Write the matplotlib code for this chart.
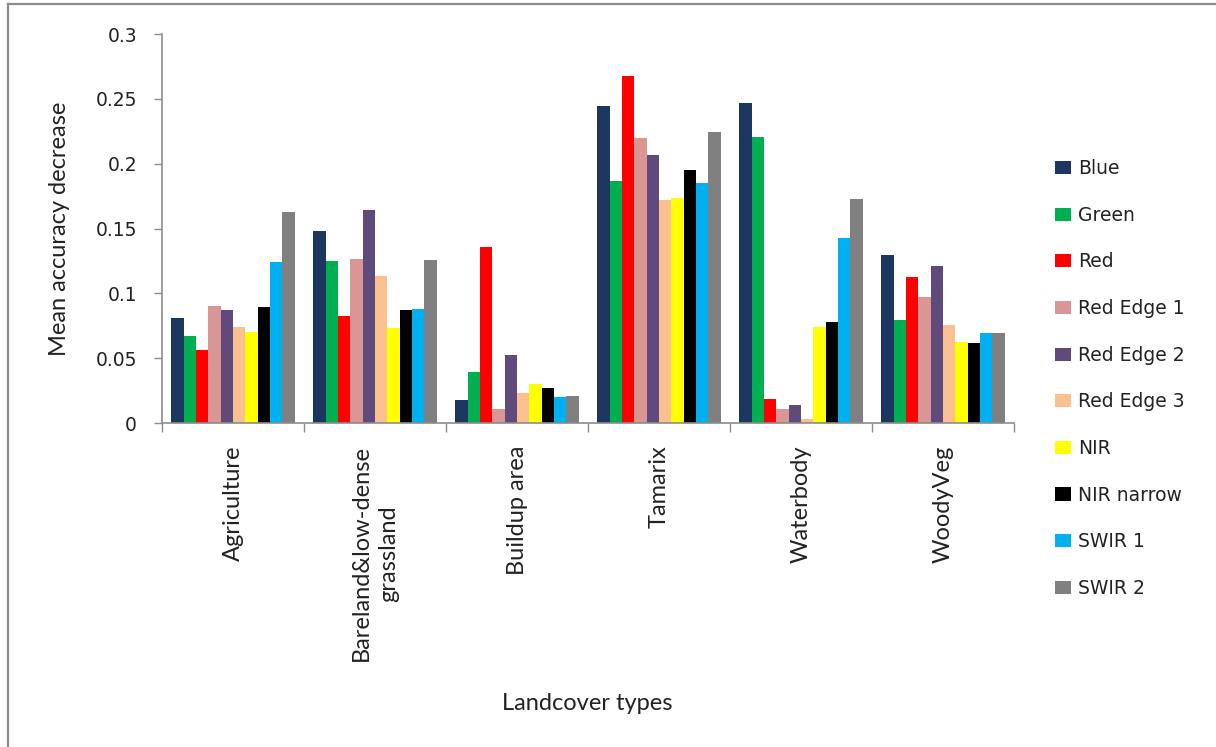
import numpy as np
import matplotlib
matplotlib.use("Agg")
import matplotlib.pyplot as plt
from matplotlib.lines import Line2D
from matplotlib.patches import Patch

# Land-cover classes (x categories)
categories = ["Agriculture", "Bareland&low-dense\ngrassland", "Buildup area",
              "Tamarix", "Waterbody", "WoodyVeg"]

# Spectral bands (series)
bands = ["Blue", "Green", "Red", "Red Edge 1", "Red Edge 2", "Red Edge 3",
         "NIR", "NIR narrow", "SWIR 1", "SWIR 2"]

band_colors = ["#1B365F", "#00B050", "#FF0000", "#D99694", "#604A7B",
               "#FAC090", "#FFFF00", "#000000", "#00B0F0", "#808080"]

# Mean accuracy decrease per band, one list per land-cover class
agriculture = [0.081, 0.067, 0.056, 0.0905, 0.0875, 0.0743, 0.0704, 0.0897, 0.124, 0.1625]
bareland = [0.1477, 0.1248, 0.0829, 0.1266, 0.1639, 0.1132, 0.0729, 0.0872, 0.0883, 0.1258]
buildup = [0.0175, 0.0396, 0.1361, 0.0108, 0.0527, 0.0232, 0.0299, 0.027, 0.0203, 0.0211]
tamarix = [0.2447, 0.187, 0.2676, 0.2197, 0.2063, 0.1719, 0.1737, 0.1955, 0.1852, 0.2243]
waterbody = [0.2465, 0.2207, 0.0185, 0.011, 0.0136, 0.0033, 0.0741, 0.078, 0.143, 0.1726]
woodyveg = [0.1297, 0.0797, 0.1124, 0.097, 0.1209, 0.0759, 0.0625, 0.0615, 0.0692, 0.0692]

y_ticks = [0, 0.05, 0.1, 0.15, 0.2, 0.25, 0.3]
y_tick_labels = ["0", "0.05", "0.1", "0.15", "0.2", "0.25", "0.3"]

values = np.array([agriculture, bareland, buildup, tamarix, waterbody, woodyveg])

W, H = 1216, 747
fig = plt.figure(figsize=(W / 100, H / 100), dpi=100)
ax = fig.add_axes([162 / W, 1 - 423 / H, (1014 - 162) / W, (423 - 34) / H])

tick_font = "DejaVu Sans"
title_font = "Lato"
axis_gray = "#8C8C8C"

n_cat, n_band = values.shape
bar_w = 1 / 11.5
centers = np.arange(n_cat) + 0.5
for j in range(n_band):
    x = centers + (j - (n_band - 1) / 2) * bar_w
    ax.bar(x, values[:, j], width=bar_w, color=band_colors[j],
           edgecolor="none", linewidth=0, zorder=2)

ax.set_xlim(0, n_cat)
ax.set_ylim(0, 0.3)

# y axis
ax.set_yticks(y_ticks)
ax.set_yticklabels(y_tick_labels, fontfamily=tick_font, fontsize=13.5)
ax.tick_params(axis="y", direction="out", length=6, width=1, color=axis_gray,
               pad=12, labelcolor="#222222")

# x axis: boundary tick marks, labels at category centres
ax.set_xticks(np.arange(n_cat + 1), minor=True)
ax.set_xticks(centers)
ax.set_xticklabels(categories, rotation=90, fontfamily=title_font,
                   fontsize=17, color="#222222", linespacing=1.35)
ax.tick_params(axis="x", which="major", length=0, pad=16)
ax.tick_params(axis="x", which="minor", direction="out", length=6.5,
               width=1, color=axis_gray)

for side in ("top", "right"):
    ax.spines[side].set_visible(False)
for side in ("left", "bottom"):
    ax.spines[side].set_color(axis_gray)
    ax.spines[side].set_linewidth(1.2)

# axis titles
fig.text(60 / W, 1 - 229 / H, "Mean accuracy decrease", rotation=90,
         ha="center", va="center", fontfamily=title_font, fontsize=17,
         color="#222222")
fig.text(587 / W, 1 - 703 / H, "Landcover types", ha="center", va="center",
         fontfamily=title_font, fontsize=17, color="#222222")

# legend
handles = [Patch(facecolor=c, edgecolor="none") for c in band_colors]
fig.legend(handles, bands, loc="upper left",
           bbox_to_anchor=(1055 / W, 1 - 159 / H), bbox_transform=fig.transFigure,
           frameon=False, borderpad=0, borderaxespad=0,
           handlelength=0.85, handleheight=0.7, handletextpad=0.37,
           labelspacing=1.475, prop={"family": tick_font, "size": 13.5},
           labelcolor="#222222")

# chart-area frame (left and top edges)
fig.add_artist(Line2D([8 / W, 8 / W], [0, 1 - 4 / H], transform=fig.transFigure,
                      color="#8C8C8C", linewidth=1.6))
fig.add_artist(Line2D([8 / W, 1], [1 - 4 / H, 1 - 4 / H], transform=fig.transFigure,
                      color="#8C8C8C", linewidth=1.6))

fig.savefig("out.png", dpi=100, facecolor="white")
